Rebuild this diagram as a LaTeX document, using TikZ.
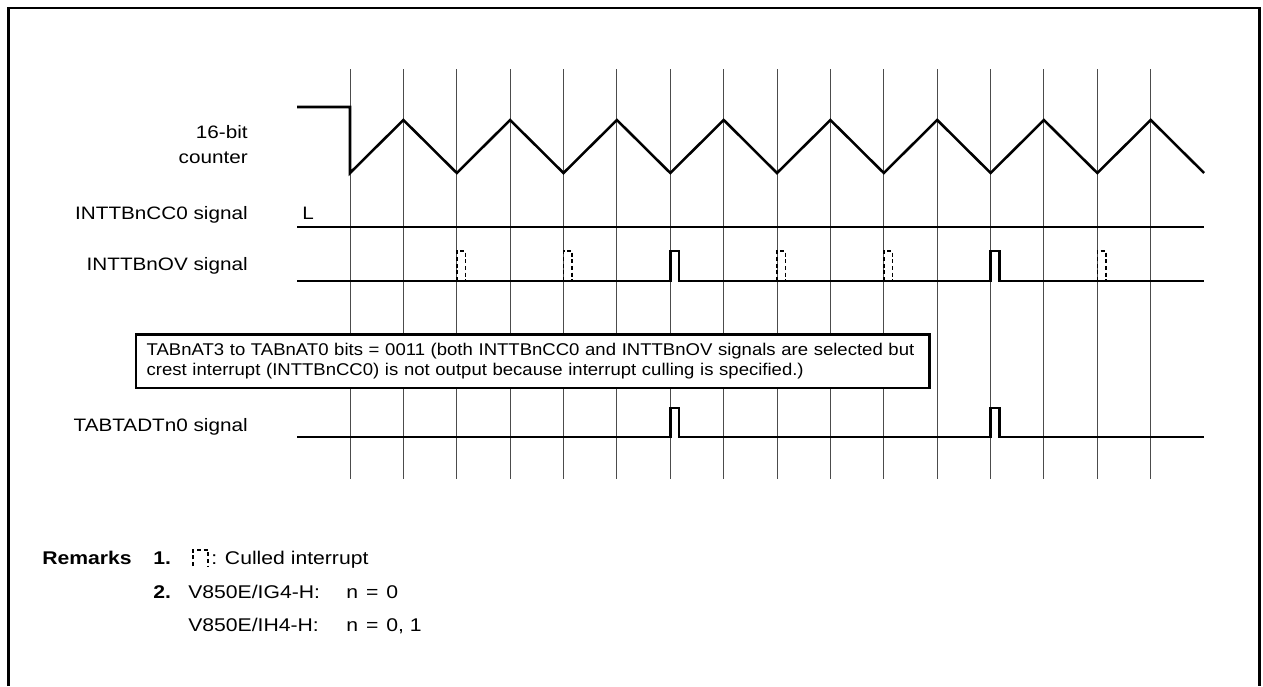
\documentclass[tikz,border=0pt]{standalone}
\usepackage{fontspec}
\setmainfont{Liberation Sans}[FakeStretch=1.15]
\newfontfamily\boxfont{Liberation Sans}[FakeStretch=1.09]
\begin{document}
\begin{tikzpicture}[x=0.75pt,y=-0.75pt,
  sig/.style={line width=1.9pt, line join=miter},
  gridline/.style={line width=0.75pt, black!70},
  cull/.style={line width=1.2pt, dash pattern=on 3pt off 2pt},
  lbl/.style={anchor=base east, inner sep=0pt, font=\fontsize{13.5}{16}\selectfont},
  rmk/.style={anchor=base west, inner sep=0pt, font=\fontsize{13.8}{16}\selectfont},
  rmkb/.style={rmk, font=\fontsize{13.8}{16}\selectfont\bfseries},
]
\useasboundingbox (0,0) rectangle (1263,686);
% frame
\draw[line width=2.2pt] (8.5,686) -- (8.5,8) -- (1259.5,8) -- (1259.5,686);
% grid
\foreach \i in {0,...,15} \draw[gridline] ({350+53.38*\i},69) -- ({350+53.38*\i},479);
% labels
\node[lbl] (l16) at (248,138) {16-bit};
\node[lbl] (lcnt) at (248,163) {counter};
\node[lbl] (lcc0) at (248,219) {INTTBnCC0 signal};
\node[lbl] (lov) at (248,270) {INTTBnOV signal};
\node[lbl] (ladt) at (248,431) {TABTADTn0 signal};
\node[anchor=base west, inner sep=0pt, font=\fontsize{13.5}{16}\selectfont] (lL) at (302,219) {L};
% counter
\draw[sig] (297,107) -- (350,107) -- (350,173) -- (403.4,120) -- (456.8,173) -- (510.1,120) -- (563.5,173) -- (616.9,120) -- (670.3,173) -- (723.7,120) -- (777,173) -- (830.4,120) -- (883.8,173) -- (937.2,120) -- (990.6,173) -- (1043.9,120) -- (1097.3,173) -- (1150.7,120) -- (1204.1,173);
% CC0
\draw[sig] (297,227) -- (1204,227);
% OV
\draw[sig] (297,281) -- (670.3,281) -- (670.3,251) -- (679,251) -- (679,281) -- (990.6,281) -- (990.6,251) -- (999.3,251) -- (999.3,281) -- (1204,281);
\foreach \x in {456.8,563.5,777,883.8,1097.3}
  \draw[cull] (\x,281) -- (\x,251) -- (\x+8.5,251) -- (\x+8.5,281);
% TABTADTn0
\draw[sig] (297,437) -- (670.3,437) -- (670.3,408) -- (679,408) -- (679,437) -- (990.6,437) -- (990.6,408) -- (999.3,408) -- (999.3,437) -- (1204,437);
% box
\node[draw, fill=white, line width=1.9pt, anchor=north west, inner xsep=8pt, inner ysep=0pt,
  text width=579pt, minimum height=40.3pt, align=left,
  font=\boxfont\fontsize{12.75}{15}\selectfont] (box) at (134.7,333)
  {TABnAT3 to TABnAT0 bits = 0011 (both INTTBnCC0 and INTTBnOV signals are selected but\\
   crest interrupt (INTTBnCC0) is not output because interrupt culling is specified.)};
% remarks
\node[rmkb] (rm) at (42,564) {Remarks};
\node[rmkb] (r1) at (153,564) {1.};
\draw[cull] (193,566) -- (193,550) -- (208,550) -- (208,566);
\node[rmk] (r1t) at (211,564) {: Culled interrupt};
\node[rmkb] (r2) at (153,598) {2.};
\node[rmk] (r2a) at (188,598) {V850E/IG4-H:};
\node[rmk] (r2b) at (346,598) {n\hspace{6pt}=\hspace{6pt}0};
\node[rmk] (r3a) at (188,631) {V850E/IH4-H:};
\node[rmk] (r3b) at (346,631) {n\hspace{6pt}=\hspace{6pt}0, 1};
\end{tikzpicture}
\end{document}
